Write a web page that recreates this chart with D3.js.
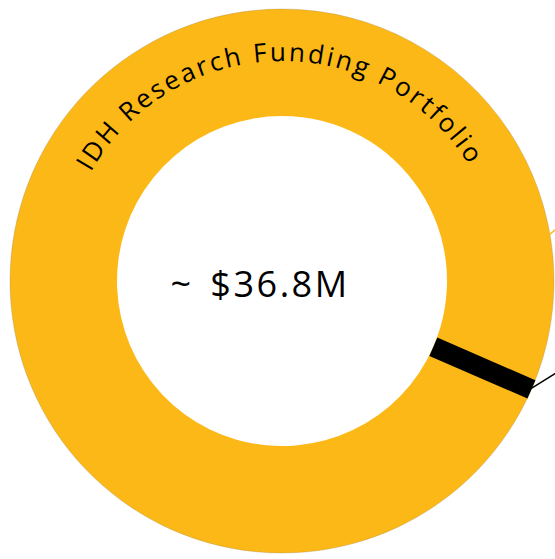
<!DOCTYPE html>
<html>
<head>
<meta charset="utf-8">
<script src="https://cdn.jsdelivr.net/npm/d3@7"></script>
<style>
  html, body { margin: 0; padding: 0; background: #fff; }
  svg { display: block; }
</style>
</head>
<body>
<svg id="chart"></svg>
<script>
// portfolio split (in $M), both parts share the same colour
var segments = ["Segment A", "Segment B"],
    amounts = [11.6, 25.2];

// where the leader lines leave the ring (cumulative $M)
var calloutAt = [8.2, 11.6],
    calloutColors = ["#FBB816", "#000"];

var title = "IDH Research Funding Portfolio",
    centerLabel = "~ $36.8M";

var width = 555,
    height = 559,
    cx = 282,
    cy = 281,
    rOuter = 272,
    rInner = 165;

var total = d3.sum(amounts);

var svg = d3.select("#chart")
    .attr("width", width)
    .attr("height", height);

var g = svg.append("g")
    .attr("transform", "translate(" + cx + "," + cy + ")");

var pie = d3.pie().sort(null).value(function (d) { return d; });
var arc = d3.arc().innerRadius(rInner).outerRadius(rOuter);

g.selectAll("path.slice")
  .data(pie(amounts))
  .enter().append("path")
    .attr("class", "slice")
    .attr("d", arc)
    .attr("fill", "#FBB816");

// thin edge like the original
g.append("circle")
    .attr("r", rOuter)
    .attr("fill", "none")
    .attr("stroke", "#9a8450")
    .attr("stroke-opacity", 0.5)
    .attr("stroke-width", 0.6);

var angle = d3.scaleLinear().domain([0, total]).range([0, 2 * Math.PI]);

function pt(v, r) {
    var a = angle(v);
    return [Math.sin(a) * r, -Math.cos(a) * r];
}

// black divider between the segments
var cut = amounts[0];
g.append("line")
    .attr("x1", pt(cut, rInner)[0]).attr("y1", pt(cut, rInner)[1])
    .attr("x2", pt(cut, rOuter)[0]).attr("y2", pt(cut, rOuter)[1])
    .attr("stroke", "#000")
    .attr("stroke-width", 20)
    .attr("stroke-linecap", "butt");

// leader lines running off to the right (labels are outside the frame)
g.selectAll("line.leader")
  .data(calloutAt)
  .enter().append("line")
    .attr("class", "leader")
    .attr("x1", function (d) { return pt(d, rOuter - 1)[0]; })
    .attr("y1", function (d) { return pt(d, rOuter - 1)[1]; })
    .attr("x2", function (d) { return pt(d, rOuter - 1)[0] + 40; })
    .attr("y2", function (d, i) { return pt(d, rOuter - 1)[1] - (i === 0 ? 33 : 25); })
    .attr("stroke", function (d, i) { return calloutColors[i]; })
    .attr("stroke-width", 1.5);

// curved title along a circle of radius rText, centred at the top
var rText = 220,
    a0 = -Math.PI * 0.6,
    a1 = Math.PI * 0.6;
var titlePath = "M" + (Math.sin(a0) * rText) + "," + (-Math.cos(a0) * rText) +
    "A" + rText + "," + rText + " 0 1 1 " +
    (Math.sin(a1) * rText) + "," + (-Math.cos(a1) * rText);
g.append("path")
    .attr("id", "titlePath")
    .attr("d", titlePath)
    .attr("fill", "none");

g.append("text")
    .style("font-family", "'Open Sans', sans-serif")
    .style("font-size", "26px")
    .style("letter-spacing", "2.6px")
    .attr("fill", "#000")
  .append("textPath")
    .attr("href", "#titlePath")
    .attr("startOffset", "49.6%")
    .attr("text-anchor", "middle")
    .text(title);

svg.append("text")
    .attr("x", 260)
    .attr("y", 297)
    .attr("text-anchor", "middle")
    .style("font-family", "'Open Sans', sans-serif")
    .style("font-size", "36px")
    .style("letter-spacing", "2.5px")
    .style("word-spacing", "5px")
    .attr("fill", "#000")
    .text(centerLabel);
</script>
</body>
</html>
